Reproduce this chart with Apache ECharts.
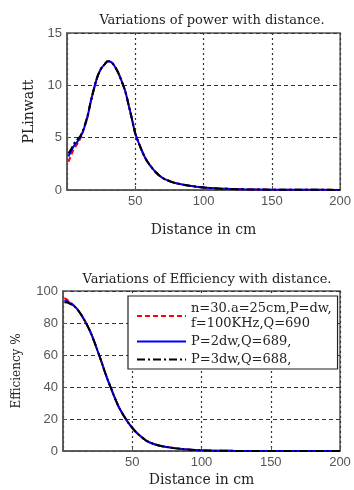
<!DOCTYPE html>
<html>
<head>
<meta charset="utf-8">
<script src="https://cdn.jsdelivr.net/npm/echarts@6/dist/echarts.min.js"></script>
<style>html,body{margin:0;padding:0;background:#fff}#c{width:354px;height:490px}</style>
</head>
<body>
<div id="c"></div>
<script>
// ---- data ----
var distance = [1,3,5,7.5,10,12.5,15,17.5,20,22.5,25,27.5,30,32.5,35,37.5,40,42.5,45,47.5,50,52.5,55,57.5,60,65,70,75,80,90,100,110,120,130,150,175,200];
var powerP1 = [2.7,3.3,3.9,4.4,5.0,5.9,7.0,8.5,9.8,10.9,11.6,12.0,12.3,12.2,11.8,11.2,10.4,9.5,8.2,6.8,5.4,4.5,3.7,3.0,2.5,1.7,1.15,0.85,0.64,0.4,0.24,0.15,0.1,0.06,0.03,0.02,0.01];
var powerP2 = [3.2,3.7,4.2,4.6,5.1,5.9,7.0,8.5,9.8,10.9,11.6,12.0,12.3,12.2,11.8,11.2,10.4,9.5,8.2,6.8,5.4,4.5,3.7,3.0,2.5,1.7,1.15,0.85,0.64,0.4,0.24,0.15,0.1,0.06,0.03,0.02,0.01];
var powerP3 = [3.5,3.9,4.4,4.8,5.2,6.0,7.1,8.5,9.8,10.9,11.6,12.0,12.3,12.2,11.8,11.2,10.4,9.5,8.2,6.8,5.4,4.5,3.7,3.0,2.5,1.7,1.15,0.85,0.64,0.4,0.24,0.15,0.1,0.06,0.03,0.02,0.01];
var effP1 = [95.5,94.5,93,91.2,89,86,82.5,78.5,74,68.5,62.5,56.5,50,44,38.5,33,28,24,20.5,17.3,14.5,12,10,8.2,6.5,4.5,3.3,2.5,1.8,0.9,0.4,0.2,0.1,0.05,0.02,0.01,0];
var effP2 = [94,93.5,92.5,91,89,86,82.5,78.5,74,68.5,62.5,56.5,50,44,38.5,33,28,24,20.5,17.3,14.5,12,10,8.2,6.5,4.5,3.3,2.5,1.8,0.9,0.4,0.2,0.1,0.05,0.02,0.01,0];
var effP3 = [93,92.8,92,90.8,88.8,86,82.5,78.5,74,68.5,62.5,56.5,50,44,38.5,33,28,24,20.5,17.3,14.5,12,10,8.2,6.5,4.5,3.3,2.5,1.8,0.9,0.4,0.2,0.1,0.05,0.02,0.01,0];
var seriesNames = ['n=30.a=25cm,P=dw,\nf=100KHz,Q=690', 'P=2dw,Q=689,', 'P=3dw,Q=688,'];
var xTicks = [50,100,150,200];
var powerTicks = [0,5,10,15];
var effTicks = [0,20,40,60,80,100];
var titles = ['Variations of power with distance.', 'Variations of Efficiency with distance.'];
var xName = 'Distance in cm';
var yNames = ['PLinwatt', 'Efficiency %'];

function pairs(ys){ return distance.map(function(d,i){ return [d, ys[i]]; }); }

var SERIF = '"DejaVu Serif", "Liberation Serif", serif';
var SANS = '"Liberation Sans", Arial, sans-serif';
var colors = ['#ff0000', '#0000ff', '#000000'];
var types = [[5,3], 'solid', [8,3,2,3]];

function xAxis(gi, gap){
  return {
    type:'value', gridIndex:gi, min:0, max:200, interval:50,
    name:xName, nameLocation:'middle', nameGap:gap,
    nameTextStyle:{fontFamily:SERIF, fontSize:14, color:'#222'},
    axisLine:{show:true, lineStyle:{color:'#555', width:1.5}},
    axisTick:{show:true, inside:true, length:4, lineStyle:{color:'#555'}},
    axisLabel:{fontFamily:SANS, fontSize:13, color:'#555', margin:5,
      formatter:function(v){ return xTicks.indexOf(v) >= 0 ? String(v) : ''; }},
    splitLine:{show:true, lineStyle:{color:'#333', type:[2,3], width:1.2}}
  };
}
function yAxis(gi, ticks, gap, name, fs){
  return {
    type:'value', gridIndex:gi, min:ticks[0], max:ticks[ticks.length-1], interval:ticks[1]-ticks[0],
    name:name, nameLocation:'middle', nameGap:gap,
    nameTextStyle:{fontFamily:SERIF, fontSize:fs, color:'#222'},
    axisLine:{show:true, lineStyle:{color:'#555', width:1.5}},
    axisTick:{show:true, inside:true, length:4, lineStyle:{color:'#555'}},
    axisLabel:{fontFamily:SANS, fontSize:13, color:'#555', margin:5},
    splitLine:{show:true, lineStyle:{color:'#333', type:[4,3], width:1.2}}
  };
}
function mk(gi, name, ys, k){
  return {
    type:'line', name:name, xAxisIndex:gi, yAxisIndex:gi, data:pairs(ys),
    smooth:0.4, symbol:'none', animation:false,
    lineStyle:{color:colors[k], width:2, type:types[k]}, itemStyle:{color:colors[k]}
  };
}

var chart = echarts.init(document.getElementById('c'), null, {renderer:'canvas'});
chart.setOption({
  backgroundColor:'#fff',
  animation:false,
  title:[
    {text:titles[0], left:207, top:9, textAlign:'center', textStyle:{fontFamily:SERIF, fontSize:13, fontWeight:'normal', color:'#222'}},
    {text:titles[1], left:202, top:268, textAlign:'center', textStyle:{fontFamily:SERIF, fontSize:13, fontWeight:'normal', color:'#222'}}
  ],
  grid:[
    {left:67, right:12, top:33, height:157, show:true, borderColor:'#555', borderWidth:1.5, backgroundColor:'#fff'},
    {left:63, right:14, top:291, height:160, show:true, borderColor:'#555', borderWidth:1.5, backgroundColor:'#fff'}
  ],
  xAxis:[xAxis(0, 33), xAxis(1, 22)],
  yAxis:[yAxis(0, powerTicks, 30, yNames[0], 14), yAxis(1, effTicks, 40, yNames[1], 12)],
  legend:{
    data:[seriesNames[0], seriesNames[1], seriesNames[2]],
    orient:'vertical', left:128, top:296,
    backgroundColor:'#fff', borderColor:'#222', borderWidth:1.2,
    padding:[5,6,2,8], itemGap:3, itemWidth:49, itemHeight:12,
    itemStyle:{opacity:0},
    textStyle:{fontFamily:SERIF, fontSize:13, color:'#222', lineHeight:15}
  },
  series:[
    mk(0, seriesNames[0], powerP1, 0),
    mk(0, seriesNames[1], powerP2, 1),
    mk(0, seriesNames[2], powerP3, 2),
    mk(1, seriesNames[0], effP1, 0),
    mk(1, seriesNames[1], effP2, 1),
    mk(1, seriesNames[2], effP3, 2)
  ]
});
</script>
</body>
</html>
